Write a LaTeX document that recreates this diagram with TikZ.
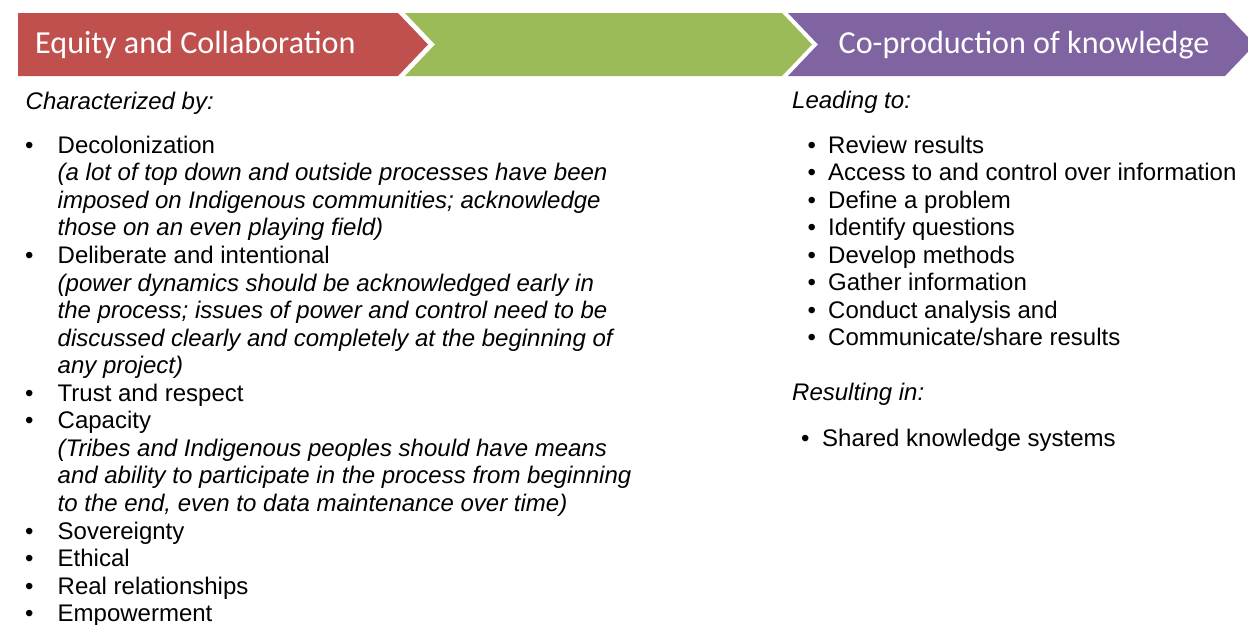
\documentclass[tikz,border=0pt]{standalone}
\usepackage{fontspec}
\setmainfont{Liberation Sans}
\newfontfamily\headfont{Carlito}
\definecolor{eqred}{HTML}{C0504D}
\definecolor{midgreen}{HTML}{9BBB59}
\definecolor{coviolet}{HTML}{8064A2}

\begin{document}
\begin{tikzpicture}[x=1pt,y=-1pt,
  hdr/.style={text=white,anchor=base west,inner sep=0pt,font=\headfont\fontsize{32.1}{36}\selectfont},
  txt/.style={anchor=base west,inner sep=0pt,font=\fontsize{24}{27.55}\selectfont},
  note/.style={txt,font=\fontsize{24}{27.55}\selectfont\itshape}]
\clip (0,0) rectangle (1248,624);
\fill[white] (0,0) rectangle (1248,624);
% chevron banner
\fill[eqred] (18,13) -- (398,13) -- (428,44.5) -- (398,76) -- (18,76) -- cycle;
\fill[midgreen] (405,13) -- (782,13) -- (812,44.5) -- (782,76) -- (405,76) -- (435,44.5) -- cycle;
\fill[coviolet] (788,13) -- (1225,13) -- (1255,44.5) -- (1225,76) -- (788,76) -- (818,44.5) -- cycle;
\node[hdr] (equity) at (35,53.5) {Equity and Collaboration};
\node[hdr] (coprod) at (838.5,53.5) {Co-production of knowledge};
% left column
\node[note] (charby) at (25.5,109) {Characterized by:};
\foreach \i/\t in {0/Decolonization, 4/Deliberate and intentional, 9/Trust and respect,
    10/Capacity, 14/Sovereignty, 15/Ethical, 16/Real relationships, 17/Empowerment} {
  \node[txt] (lb\i) at (25,153.3+27.55*\i) {\textbullet};
  \node[txt] (lt\i) at (57.5,153.3+27.55*\i) {\t};
}
\foreach \i/\t in {1/{(a lot of top down and outside processes have been},
    2/{imposed on Indigenous communities; acknowledge},
    3/{those on an even playing field)},
    5/{(power dynamics should be acknowledged early in},
    6/{the process; issues of power and control need to be},
    7/{discussed clearly and completely at the beginning of},
    8/{any project)},
    11/{(Tribes and Indigenous peoples should have means},
    12/{and ability to participate in the process from beginning},
    13/{to the end, even to data maintenance over time)}} {
  \node[note] (ln\i) at (57.5,153.3+27.55*\i) {\t};
}
% right column
\node[note] (leadto) at (792,108) {Leading to:};
\foreach \i/\t in {0/Review results, 1/Access to and control over information,
    2/Define a problem, 3/Identify questions, 4/Develop methods,
    5/Gather information, 6/Conduct analysis and, 7/{Communicate/share results}} {
  \node[txt] (rb\i) at (807.5,153+27.55*\i) {\textbullet};
  \node[txt] (rt\i) at (828,153+27.55*\i) {\t};
}
\node[note] (resin) at (792,400) {Resulting in:};
\node[txt] (sb) at (801,446.7) {\textbullet};
\node[txt] (st) at (822,446.7) {Shared knowledge systems};
\end{tikzpicture}
\end{document}
